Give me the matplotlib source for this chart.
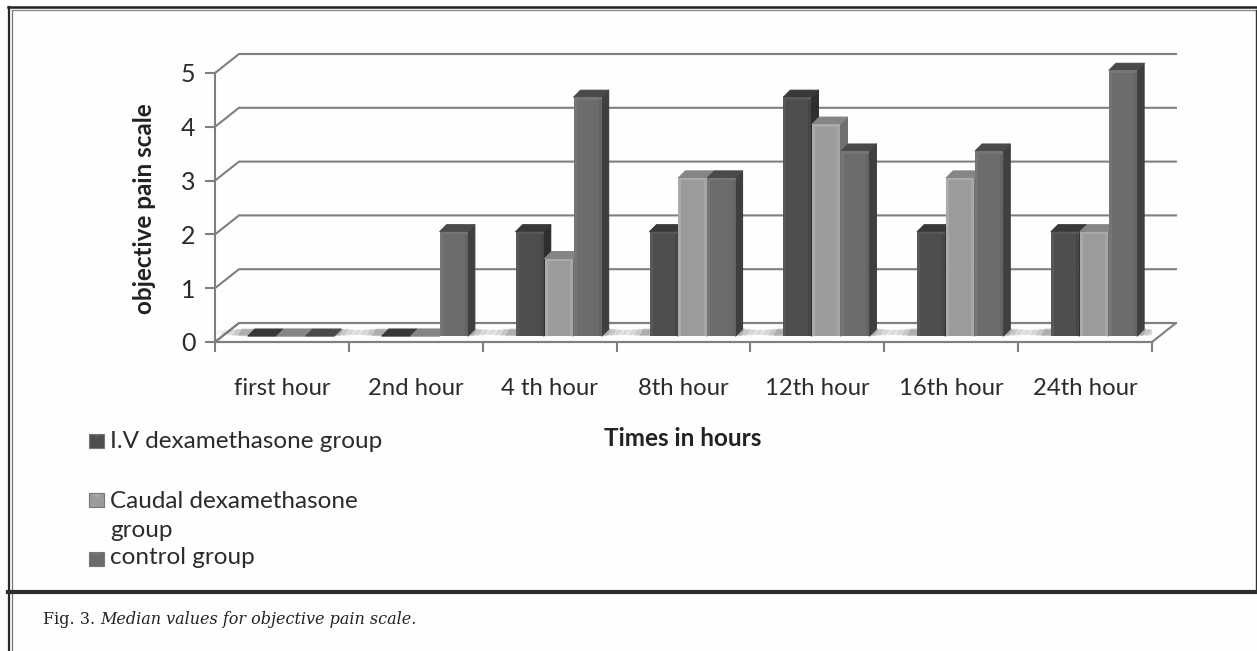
import matplotlib
matplotlib.use("Agg")
import matplotlib.pyplot as plt
from matplotlib.patches import Polygon, Rectangle

categories = ["first hour", "2nd hour", "4 th hour", "8th hour", "12th hour", "16th hour", "24th hour"]
iv_group = [0, 0, 2, 2, 4.5, 2, 2]
caudal_group = [0, 0, 1.5, 3, 4, 3, 2]
control_group = [0, 2, 4.5, 3, 3.5, 3.5, 5]
y_ticks = [0, 1, 2, 3, 4, 5]
series_names = ["I.V dexamethasone group", "Caudal dexamethasone\ngroup", "control group"]

W, H = 1257, 651
SANS = "Lato"
GRID = "#7f7f7f"
# front, side, top, left highlight, right edge
STYLES = [("#4e4e4e", "#2e2e2e", "#383838", "#585858", "#464646"),
          ("#9b9b9b", "#6f6f6f", "#858585", "#aaaaaa", "#a6a6a6"),
          ("#6c6c6c", "#3f3f3f", "#4a4a4a", "#757575", "#646464")]

fig = plt.figure(figsize=(W / 100, H / 100), dpi=100, facecolor="#fefefe")

# page frame, in pixel coordinates
page = fig.add_axes([0, 0, 1, 1], zorder=0)
page.set_xlim(0, W)
page.set_ylim(H, 0)
page.axis("off")
page.plot([8.5, 8.5], [7, H], color="#2a2a2a", lw=1.6)
page.plot([12, 12], [10, H], color="#777777", lw=0.9)
page.plot([8, W], [7, 7], color="#222222", lw=1.8)
page.plot([12, W], [10, 10], color="#8a8a8a", lw=1.0)
page.plot([1256, 1256], [10, 591], color="#333333", lw=1.0)
page.plot([8, W], [591.5, 591.5], color="#2c2c2c", lw=3.0)

# chart axes: x 0..7 spans px 215..1152, y 0..5 spans px 342..73
x0, x1, y0, y1 = 215, 1152, 342, 73
ax = fig.add_axes([x0 / W, 1 - y0 / H, (x1 - x0) / W, (y0 - y1) / H], zorder=1)
ax.patch.set_alpha(0)
ax.set_xlim(0, len(categories))
ax.set_ylim(0, 5)
px = (x1 - x0) / len(categories)   # pixels per category
py = (y0 - y1) / 5                 # pixels per unit
DX, DY = 24 / px, 19 / py          # wall depth in data units
bx, by = 7 / px, 7 / py            # bar depth in data units

for s in ("top", "right"):
    ax.spines[s].set_visible(False)
for s in ("left", "bottom"):
    ax.spines[s].set_color(GRID)
    ax.spines[s].set_linewidth(1.5)

n = len(categories)
# floor
ax.add_patch(Polygon([(0, 0), (n, 0), (n + DX, DY), (DX, DY)], closed=True, fc="white",
                     ec=GRID, lw=1.5, zorder=1, clip_on=False))
# walls: gridlines and diagonals
for v in y_ticks:
    ax.plot([0, DX, n + DX], [v, v + DY, v + DY], color=GRID, lw=1.5, zorder=1,
            clip_on=False, solid_joinstyle="miter")

# floor shadows
for i in range(n):
    for grow, a in ((0.0, 0.22), (0.04, 0.14), (0.08, 0.10), (0.13, 0.07), (0.18, 0.05)):
        a0, a1 = i + 0.17 - grow, i + 0.93 + grow
        b0, b1 = 0.11 + grow * 0.15, 0.25 - grow * 0.15
        ax.add_patch(Polygon([(a0, b0), (a1, b0), (a1 + 0.03, b1), (a0 + 0.03, b1)],
                             closed=True, fc="#555555", ec="none", alpha=a, zorder=2))

# bars
start, width = 0.246, 0.2164
base = 0.11
series = [iv_group, caudal_group, control_group]
for i in range(n):
    for k, vals in enumerate(series):
        front, side, topc, lite, edge = STYLES[k]
        left = i + start + k * width
        right = left + width * 0.97
        top = max(vals[i] + 0.05, base)
        z = 3 + k
        ax.add_patch(Polygon([(right, base), (right + bx, base + by), (right + bx, top + by), (right, top)],
                             closed=True, fc=side, ec=side, lw=0.8, joinstyle="round", zorder=z, clip_on=False))
        ax.add_patch(Polygon([(left, top), (right, top), (right + bx, top + by), (left + bx, top + by)],
                             closed=True, fc=topc, ec=topc, lw=0.8, joinstyle="round", zorder=z, clip_on=False))
        if top > base:
            ax.add_patch(Rectangle((left, base), right - left, top - base, fc=front, ec="none", zorder=z, clip_on=False))
            ax.add_patch(Rectangle((left, base), 3 / px, top - base, fc=lite, ec="none", zorder=z, clip_on=False))
            ax.add_patch(Rectangle((right - 3 / px, base), 3 / px, top - base, fc=edge, ec="none", zorder=z, clip_on=False))
            ax.add_patch(Rectangle((left, top - 2.5 / py), right - left, 2.5 / py, fc=lite, ec="none", zorder=z, clip_on=False))

# axes ticks and labels
ax.set_xticks(range(n + 1))
ax.set_xticklabels([])
ax.set_xticks([i + 0.5 for i in range(n)], minor=True)
ax.set_xticklabels(categories, minor=True, fontsize=17.2, family=SANS, color="#2b2b2b")
ax.tick_params(axis="x", which="major", length=7, width=1.5, color=GRID)
ax.tick_params(axis="x", which="minor", length=0, pad=26)
ax.set_yticks(y_ticks)
ax.set_yticklabels([str(v) for v in y_ticks], fontsize=18, family=SANS, color="#2b2b2b")
ax.tick_params(axis="y", length=7, width=1.5, color=GRID, pad=7)

page.set_zorder(2)
page.patch.set_alpha(0)
page.text(144, 209, "objective pain scale", rotation=90, ha="center", va="center",
          fontsize=17.5, fontweight="bold", family=SANS, color="#222222")
page.text(683, 439, "Times in hours", ha="center", va="center",
          fontsize=17.5, fontweight="bold", family=SANS, color="#222222")

# legend
legend_y = [441, 500, 559]
text_y = [441, 516, 558]
for name, ly, ty, st in zip(series_names, legend_y, text_y, STYLES):
    page.add_patch(Rectangle((89, ly - 7), 15, 14, fc=st[0], ec="#777777", lw=0.8))
    page.add_patch(Polygon([(92, ly - 6), (101, ly - 6), (96.5, ly - 2)], closed=True, fc=st[3], ec="none"))
    page.text(110, ty, name, ha="left", va="center", fontsize=17.5, family=SANS,
              color="#2b2b2b", linespacing=1.43)

# caption
cap = page.text(43, 619, "Fig. 3. ", ha="left", va="center", fontsize=11.5,
                family="DejaVu Serif", color="#222222")
page.annotate("Median values for objective pain scale.", xy=(1, 0), xycoords=cap,
              ha="left", va="bottom", fontsize=11.5, style="italic",
              family="DejaVu Serif", color="#222222")

fig.savefig("out.png", dpi=100, facecolor=fig.get_facecolor())
